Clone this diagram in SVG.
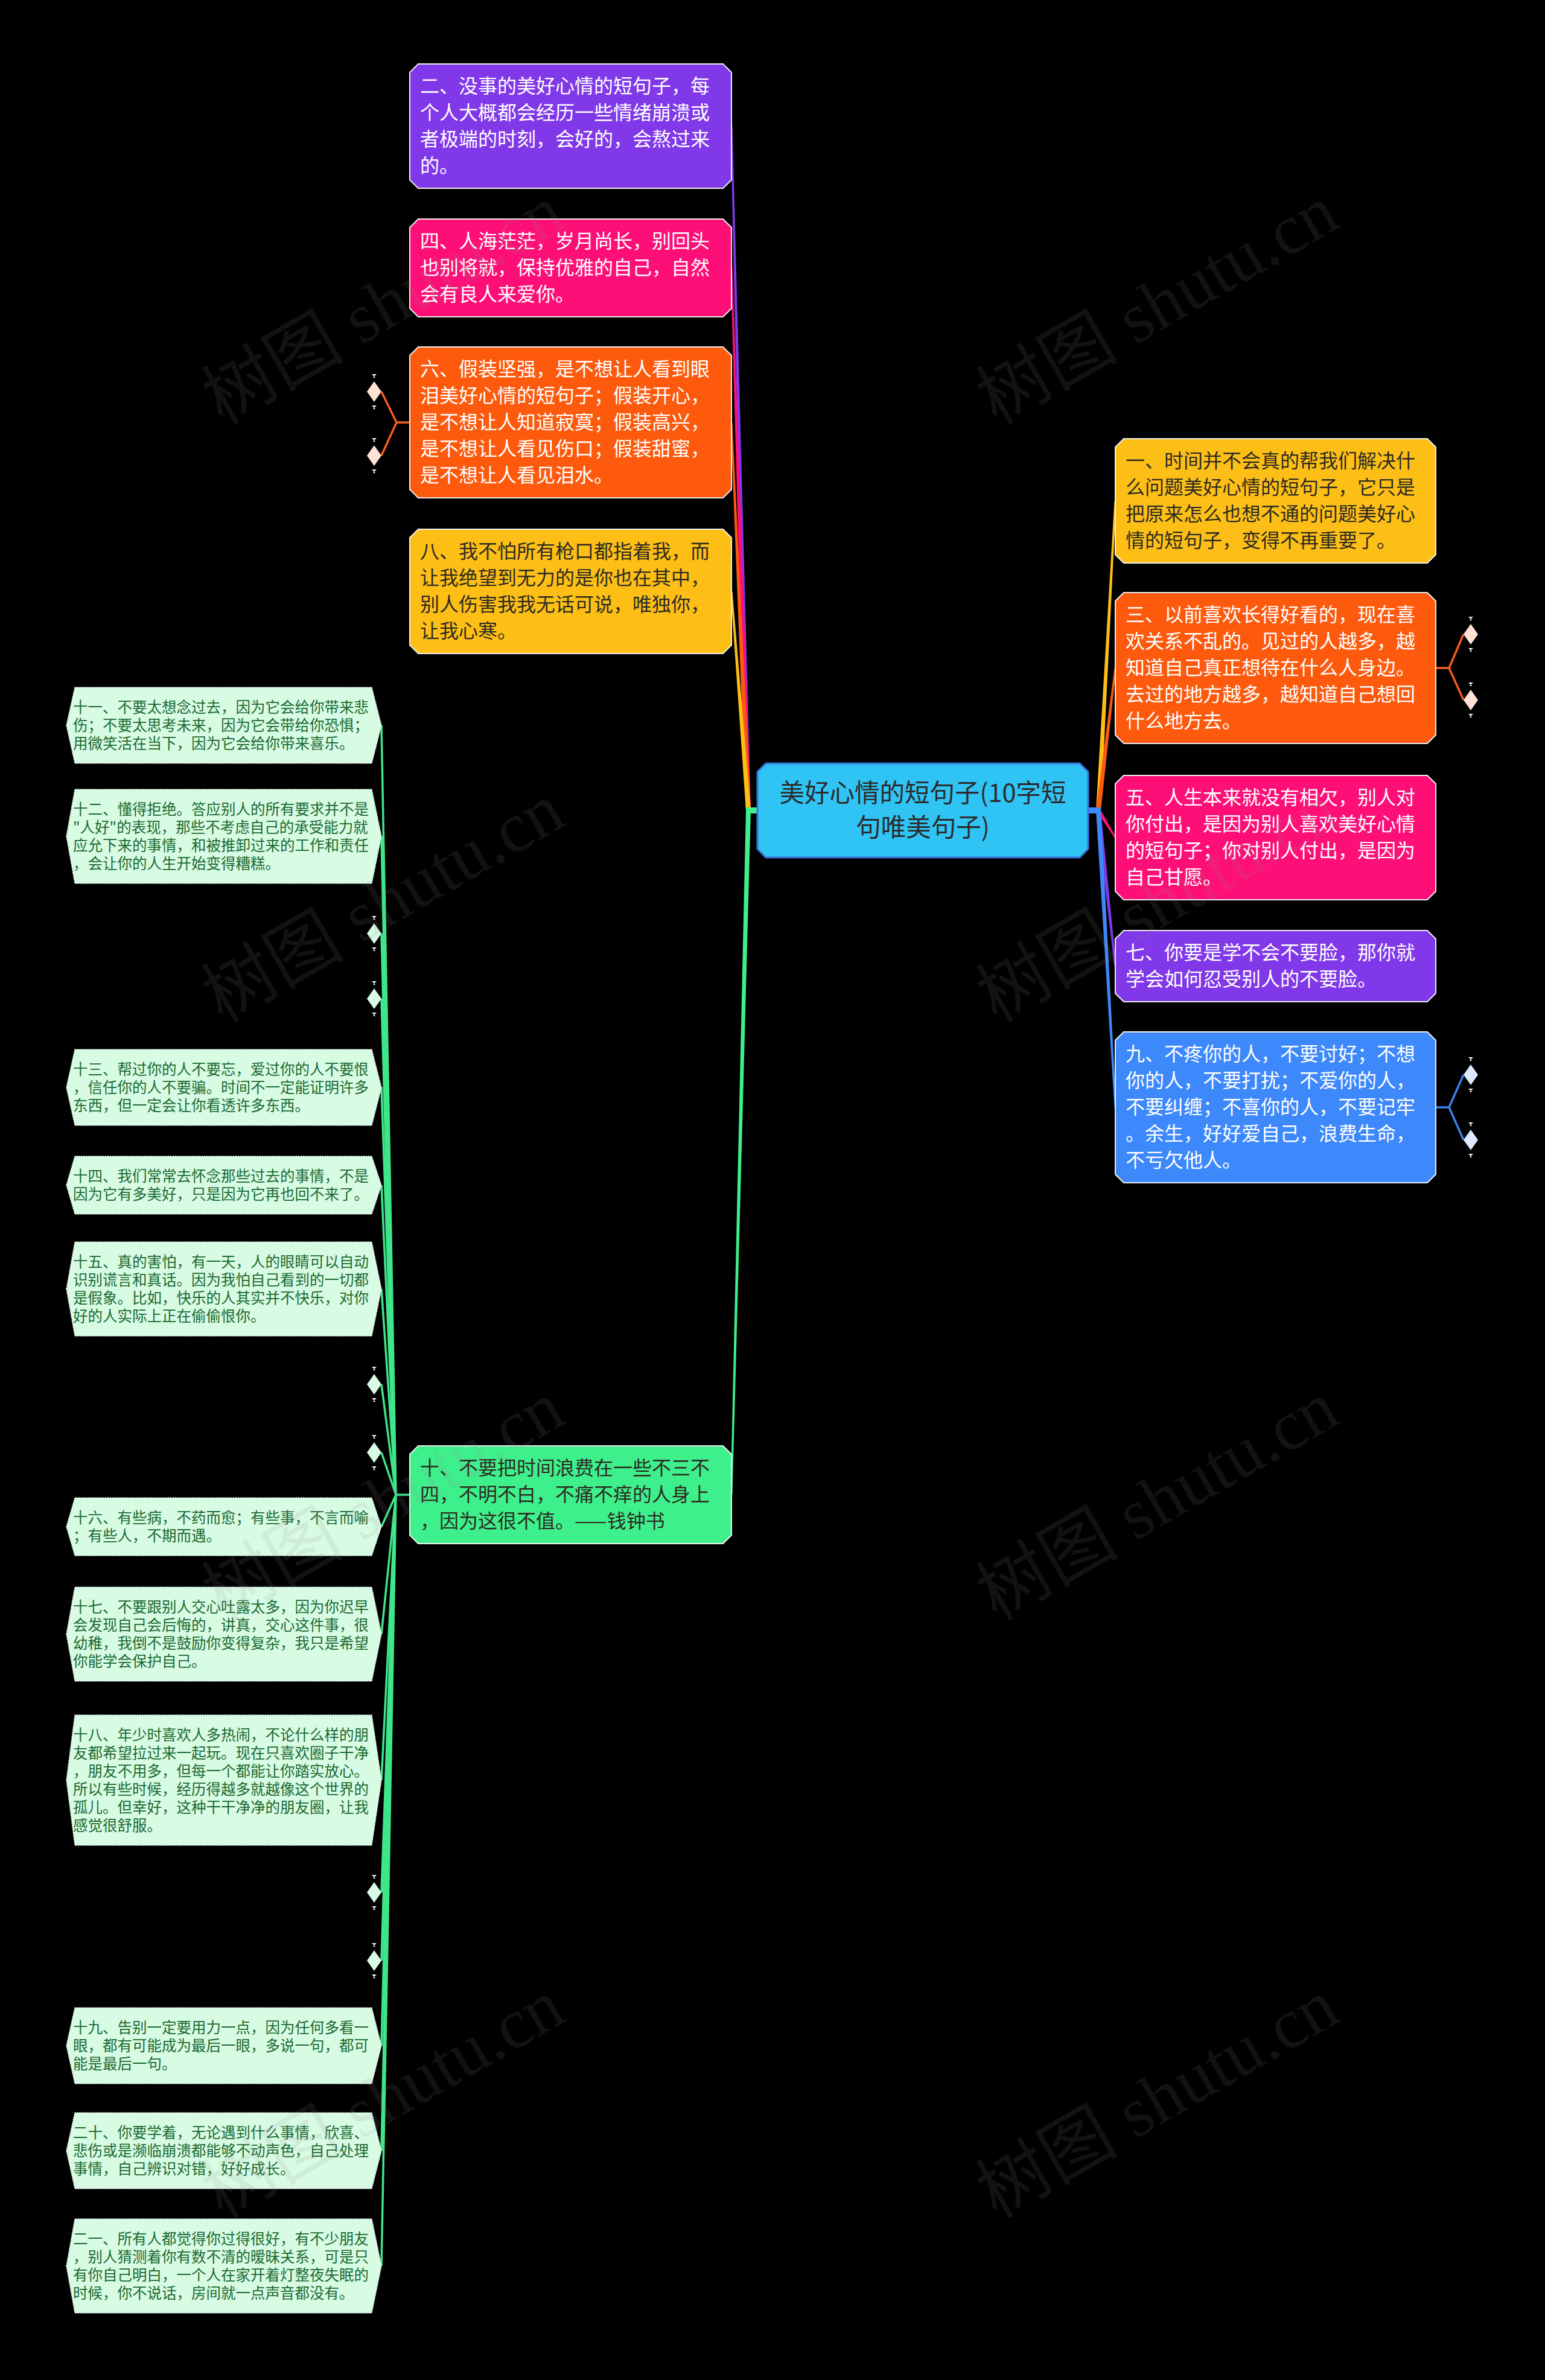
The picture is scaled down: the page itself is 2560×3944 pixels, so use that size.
<svg xmlns="http://www.w3.org/2000/svg" width="2560" height="3944" viewBox="0 0 2560 3944">
<defs>
<style>
.main{font-family:"Noto Sans CJK SC","Noto Sans",sans-serif;font-size:32px}
.small{font-family:"Noto Sans CJK SC","Noto Sans",sans-serif;font-size:24.5px;fill:#1b6a32}
.ctr{font-family:"Noto Sans CJK SC","Noto Sans",sans-serif;font-size:41.5px;fill:#2b2b2b;text-anchor:middle}
.w{fill:#ffffff}
.d{fill:#2d2a22}
.box{stroke:#eeeeee;stroke-width:2}
.hex{fill:#d8fbe4;stroke:#f4fff8;stroke-width:1.5;stroke-dasharray:2 2}
.gl{fill:none;stroke:#3ee68a;stroke-width:3.5;stroke-linejoin:round}
.ol{fill:none;stroke:#f65d1c;stroke-width:3.5;stroke-linejoin:round}
.bl{fill:none;stroke:#3d82f0;stroke-width:3.5;stroke-linejoin:round}
.wm{font-family:"Liberation Serif","Noto Sans CJK SC",serif;font-size:118px;fill:#8a8a8a;fill-opacity:0.13}
</style>
<symbol id="spk" viewBox="-5 -5 10 10" overflow="visible">
<path d="M-4,-3 L4,-3 L0,1 Z M-2,3 L2,3 L0,0 Z" fill="#f4f4f4"/>
</symbol>
</defs>
<rect x="0" y="0" width="2560" height="3944" fill="#000000"/>

<g id="connectors">
<polygon points="1236,1343 1244,1343 1213.5,209 1210.5,209" fill="#8038e8"/>
<polygon points="1236,1343 1244,1343 1213.5,444 1210.5,444" fill="#fe0f77"/>
<polygon points="1236,1343 1244,1343 1213.5,700 1210.5,700" fill="#fd5a0e"/>
<polygon points="1236,1343 1244,1343 1213.5,980 1210.5,980" fill="#fdbf16"/>
<polygon points="1236,1343 1244,1343 1213.5,2477 1210.5,2477" fill="#3ef08c"/>
<rect x="1236" y="1338" width="22" height="10" fill="#3ef08c"/>
<polygon points="1816,1343 1824,1343 1849.5,830 1846.5,830" fill="#fdbf16"/>
<polygon points="1816,1343 1824,1343 1849.5,1107 1846.5,1107" fill="#fd5a0e"/>
<polygon points="1816,1343 1824,1343 1849.5,1388 1846.5,1388" fill="#fe0f77"/>
<polygon points="1816,1343 1824,1343 1849.5,1601 1846.5,1601" fill="#8038e8"/>
<polygon points="1816,1343 1824,1343 1849.5,1835 1846.5,1835" fill="#3d88fb"/>
<rect x="1800" y="1338" width="24" height="10" fill="#3d88fb"/>
<path class="ol" d="M679,700 L657,700 L632,649 M657,700 L632,755"/>
<path class="ol" d="M2379,1107 L2401,1107 L2425,1051 M2401,1107 L2425,1160"/>
<path class="bl" d="M2379,1835 L2401,1835 L2425,1781 M2401,1835 L2425,1889"/>
<path class="gl" d="M679,2477 L656,2477 L632,1202 M656,2477 L632,1386 M656,2477 L632,1547 M656,2477 L632,1655 M656,2477 L632,1802 M656,2477 L632,1964 M656,2477 L632,2136 M656,2477 L632,2294 M656,2477 L632,2407 M656,2477 L632,2530 M656,2477 L632,2708 M656,2477 L632,2950 M656,2477 L632,3136 M656,2477 L632,3249 M656,2477 L632,3390 M656,2477 L632,3564 M656,2477 L632,3755"/>
</g>

<g id="node-center">
<polygon points="1269,1265 1789,1265 1803,1279 1803,1407 1789,1421 1269,1421 1255,1407 1255,1279" fill="#30c4f5" stroke="#3873d8" stroke-width="3"/>
<text class="ctr" x="1529" y="1329">美好心情的短句子(10字短</text>
<text class="ctr" x="1529" y="1386">句唯美句子)</text>
</g>

<g id="node-2">
<polygon class="box" points="693,106 1198,106 1212,120 1212,298 1198,312 693,312 679,298 679,120" fill="#8038e8"/>
<text class="main w" x="696" y="154">二、没事的美好心情的短句子，每</text>
<text class="main w" x="696" y="198">个人大概都会经历一些情绪崩溃或</text>
<text class="main w" x="696" y="242">者极端的时刻，会好的，会熬过来</text>
<text class="main w" x="696" y="286">的。</text>
</g>
<g id="node-4">
<polygon class="box" points="693,363 1198,363 1212,377 1212,511 1198,525 693,525 679,511 679,377" fill="#fe0f77"/>
<text class="main w" x="696" y="411">四、人海茫茫，岁月尚长，别回头</text>
<text class="main w" x="696" y="455">也别将就，保持优雅的自己，自然</text>
<text class="main w" x="696" y="499">会有良人来爱你。</text>
</g>
<g id="node-6">
<polygon class="box" points="693,575 1198,575 1212,589 1212,811 1198,825 693,825 679,811 679,589" fill="#fd5a0e"/>
<text class="main w" x="696" y="623">六、假装坚强，是不想让人看到眼</text>
<text class="main w" x="696" y="667">泪美好心情的短句子；假装开心，</text>
<text class="main w" x="696" y="711">是不想让人知道寂寞；假装高兴，</text>
<text class="main w" x="696" y="755">是不想让人看见伤口；假装甜蜜，</text>
<text class="main w" x="696" y="799">是不想让人看见泪水。</text>
</g>
<g id="node-8">
<polygon class="box" points="693,877 1198,877 1212,891 1212,1069 1198,1083 693,1083 679,1069 679,891" fill="#fdbf16"/>
<text class="main d" x="696" y="925">八、我不怕所有枪口都指着我，而</text>
<text class="main d" x="696" y="969">让我绝望到无力的是你也在其中，</text>
<text class="main d" x="696" y="1013">别人伤害我我无话可说，唯独你，</text>
<text class="main d" x="696" y="1057">让我心寒。</text>
</g>
<g id="node-10">
<polygon class="box" points="693,2396 1198,2396 1212,2410 1212,2544 1198,2558 693,2558 679,2544 679,2410" fill="#3ef08c"/>
<text class="main d" x="696" y="2444">十、不要把时间浪费在一些不三不</text>
<text class="main d" x="696" y="2488">四，不明不白，不痛不痒的人身上</text>
<text class="main d" x="696" y="2532">，因为这很不值。——钱钟书</text>
</g>

<g id="node-1">
<polygon class="box" points="1862,727 2365,727 2379,741 2379,919 2365,933 1862,933 1848,919 1848,741" fill="#fdbf16"/>
<text class="main d" x="1865" y="775">一、时间并不会真的帮我们解决什</text>
<text class="main d" x="1865" y="819">么问题美好心情的短句子，它只是</text>
<text class="main d" x="1865" y="863">把原来怎么也想不通的问题美好心</text>
<text class="main d" x="1865" y="907">情的短句子，变得不再重要了。</text>
</g>
<g id="node-3">
<polygon class="box" points="1862,982 2365,982 2379,996 2379,1218 2365,1232 1862,1232 1848,1218 1848,996" fill="#fd5a0e"/>
<text class="main w" x="1865" y="1030">三、以前喜欢长得好看的，现在喜</text>
<text class="main w" x="1865" y="1074">欢关系不乱的。见过的人越多，越</text>
<text class="main w" x="1865" y="1118">知道自己真正想待在什么人身边。</text>
<text class="main w" x="1865" y="1162">去过的地方越多，越知道自己想回</text>
<text class="main w" x="1865" y="1206">什么地方去。</text>
</g>
<g id="node-5">
<polygon class="box" points="1862,1285 2365,1285 2379,1299 2379,1477 2365,1491 1862,1491 1848,1477 1848,1299" fill="#fe0f77"/>
<text class="main w" x="1865" y="1333">五、人生本来就没有相欠，别人对</text>
<text class="main w" x="1865" y="1377">你付出，是因为别人喜欢美好心情</text>
<text class="main w" x="1865" y="1421">的短句子；你对别人付出，是因为</text>
<text class="main w" x="1865" y="1465">自己甘愿。</text>
</g>
<g id="node-7">
<polygon class="box" points="1862,1542 2365,1542 2379,1556 2379,1646 2365,1660 1862,1660 1848,1646 1848,1556" fill="#8038e8"/>
<text class="main w" x="1865" y="1590">七、你要是学不会不要脸，那你就</text>
<text class="main w" x="1865" y="1634">学会如何忍受别人的不要脸。</text>
</g>
<g id="node-9">
<polygon class="box" points="1862,1710 2365,1710 2379,1724 2379,1946 2365,1960 1862,1960 1848,1946 1848,1724" fill="#3d88fb"/>
<text class="main w" x="1865" y="1758">九、不疼你的人，不要讨好；不想</text>
<text class="main w" x="1865" y="1802">你的人，不要打扰；不爱你的人，</text>
<text class="main w" x="1865" y="1846">不要纠缠；不喜你的人，不要记牢</text>
<text class="main w" x="1865" y="1890">。余生，好好爱自己，浪费生命，</text>
<text class="main w" x="1865" y="1934">不亏欠他人。</text>
</g>

<g id="node-11">
<polygon class="hex" points="110,1202 124,1139 616,1139 632,1202 616,1265 124,1265"/>
<text class="small" x="121" y="1181">十一、不要太想念过去，因为它会给你带来悲</text>
<text class="small" x="121" y="1211">伤；不要太思考未来，因为它会带给你恐惧；</text>
<text class="small" x="121" y="1241">用微笑活在当下，因为它会给你带来喜乐。</text>
</g>
<g id="node-12">
<polygon class="hex" points="110,1386 124,1308 616,1308 632,1386 616,1464 124,1464"/>
<text class="small" x="121" y="1350">十二、懂得拒绝。答应别人的所有要求并不是</text>
<text class="small" x="121" y="1380">"人好"的表现，那些不考虑自己的承受能力就</text>
<text class="small" x="121" y="1410">应允下来的事情，和被推卸过来的工作和责任</text>
<text class="small" x="121" y="1440">，会让你的人生开始变得糟糕。</text>
</g>
<g id="node-13">
<polygon class="hex" points="110,1802 124,1739 616,1739 632,1802 616,1865 124,1865"/>
<text class="small" x="121" y="1781">十三、帮过你的人不要忘，爱过你的人不要恨</text>
<text class="small" x="121" y="1811">，信任你的人不要骗。时间不一定能证明许多</text>
<text class="small" x="121" y="1841">东西，但一定会让你看透许多东西。</text>
</g>
<g id="node-14">
<polygon class="hex" points="110,1964 124,1916 616,1916 632,1964 616,2012 124,2012"/>
<text class="small" x="121" y="1958">十四、我们常常去怀念那些过去的事情，不是</text>
<text class="small" x="121" y="1988">因为它有多美好，只是因为它再也回不来了。</text>
</g>
<g id="node-15">
<polygon class="hex" points="110,2136 124,2058 616,2058 632,2136 616,2214 124,2214"/>
<text class="small" x="121" y="2100">十五、真的害怕，有一天，人的眼睛可以自动</text>
<text class="small" x="121" y="2130">识别谎言和真话。因为我怕自己看到的一切都</text>
<text class="small" x="121" y="2160">是假象。比如，快乐的人其实并不快乐，对你</text>
<text class="small" x="121" y="2190">好的人实际上正在偷偷恨你。</text>
</g>
<g id="node-16">
<polygon class="hex" points="110,2530 124,2482 616,2482 632,2530 616,2578 124,2578"/>
<text class="small" x="121" y="2524">十六、有些病，不药而愈；有些事，不言而喻</text>
<text class="small" x="121" y="2554">；有些人，不期而遇。</text>
</g>
<g id="node-17">
<polygon class="hex" points="110,2708 124,2630 616,2630 632,2708 616,2786 124,2786"/>
<text class="small" x="121" y="2672">十七、不要跟别人交心吐露太多，因为你迟早</text>
<text class="small" x="121" y="2702">会发现自己会后悔的，讲真，交心这件事，很</text>
<text class="small" x="121" y="2732">幼稚，我倒不是鼓励你变得复杂，我只是希望</text>
<text class="small" x="121" y="2762">你能学会保护自己。</text>
</g>
<g id="node-18">
<polygon class="hex" points="110,2950 124,2842 616,2842 632,2950 616,3058 124,3058"/>
<text class="small" x="121" y="2884">十八、年少时喜欢人多热闹，不论什么样的朋</text>
<text class="small" x="121" y="2914">友都希望拉过来一起玩。现在只喜欢圈子干净</text>
<text class="small" x="121" y="2944">，朋友不用多，但每一个都能让你踏实放心。</text>
<text class="small" x="121" y="2974">所以有些时候，经历得越多就越像这个世界的</text>
<text class="small" x="121" y="3004">孤儿。但幸好，这种干干净净的朋友圈，让我</text>
<text class="small" x="121" y="3034">感觉很舒服。</text>
</g>
<g id="node-19">
<polygon class="hex" points="110,3390 124,3327 616,3327 632,3390 616,3453 124,3453"/>
<text class="small" x="121" y="3369">十九、告别一定要用力一点，因为任何多看一</text>
<text class="small" x="121" y="3399">眼，都有可能成为最后一眼，多说一句，都可</text>
<text class="small" x="121" y="3429">能是最后一句。</text>
</g>
<g id="node-20">
<polygon class="hex" points="110,3564 124,3501 616,3501 632,3564 616,3627 124,3627"/>
<text class="small" x="121" y="3543">二十、你要学着，无论遇到什么事情，欣喜、</text>
<text class="small" x="121" y="3573">悲伤或是濒临崩溃都能够不动声色，自己处理</text>
<text class="small" x="121" y="3603">事情，自己辨识对错，好好成长。</text>
</g>
<g id="node-21">
<polygon class="hex" points="110,3755 124,3677 616,3677 632,3755 616,3833 124,3833"/>
<text class="small" x="121" y="3719">二一、所有人都觉得你过得很好，有不少朋友</text>
<text class="small" x="121" y="3749">，别人猜测着你有数不清的暧昧关系，可是只</text>
<text class="small" x="121" y="3779">有你自己明白，一个人在家开着灯整夜失眠的</text>
<text class="small" x="121" y="3809">时候，你不说话，房间就一点声音都没有。</text>
</g>

<g id="diamonds">
<g id="d6a"><polygon points="620,632 632,649 620,666 608,649" fill="#ffe2d4"/><use href="#spk" x="615" y="618" width="10" height="10"/><use href="#spk" x="615" y="670" width="10" height="10"/></g>
<g id="d6b"><polygon points="620,738 632,755 620,772 608,755" fill="#ffe2d4"/><use href="#spk" x="615" y="724" width="10" height="10"/><use href="#spk" x="615" y="776" width="10" height="10"/></g>
<g id="d3a"><polygon points="2437,1034 2449,1051 2437,1068 2425,1051" fill="#ffe2d4"/><use href="#spk" x="2432" y="1020" width="10" height="10"/><use href="#spk" x="2432" y="1072" width="10" height="10"/></g>
<g id="d3b"><polygon points="2437,1143 2449,1160 2437,1177 2425,1160" fill="#ffe2d4"/><use href="#spk" x="2432" y="1129" width="10" height="10"/><use href="#spk" x="2432" y="1181" width="10" height="10"/></g>
<g id="d9a"><polygon points="2437,1764 2449,1781 2437,1798 2425,1781" fill="#dce9ff"/><use href="#spk" x="2432" y="1750" width="10" height="10"/><use href="#spk" x="2432" y="1802" width="10" height="10"/></g>
<g id="d9b"><polygon points="2437,1872 2449,1889 2437,1906 2425,1889" fill="#dce9ff"/><use href="#spk" x="2432" y="1858" width="10" height="10"/><use href="#spk" x="2432" y="1910" width="10" height="10"/></g>
<g id="d10a"><polygon points="620,1530 632,1547 620,1564 608,1547" fill="#d8fbe4"/><use href="#spk" x="615" y="1516" width="10" height="10"/><use href="#spk" x="615" y="1568" width="10" height="10"/></g>
<g id="d10b"><polygon points="620,1638 632,1655 620,1672 608,1655" fill="#d8fbe4"/><use href="#spk" x="615" y="1624" width="10" height="10"/><use href="#spk" x="615" y="1676" width="10" height="10"/></g>
<g id="d10c"><polygon points="620,2277 632,2294 620,2311 608,2294" fill="#d8fbe4"/><use href="#spk" x="615" y="2263" width="10" height="10"/><use href="#spk" x="615" y="2315" width="10" height="10"/></g>
<g id="d10d"><polygon points="620,2390 632,2407 620,2424 608,2407" fill="#d8fbe4"/><use href="#spk" x="615" y="2376" width="10" height="10"/><use href="#spk" x="615" y="2428" width="10" height="10"/></g>
<g id="d10e"><polygon points="620,3119 632,3136 620,3153 608,3136" fill="#d8fbe4"/><use href="#spk" x="615" y="3105" width="10" height="10"/><use href="#spk" x="615" y="3157" width="10" height="10"/></g>
<g id="d10f"><polygon points="620,3232 632,3249 620,3266 608,3249" fill="#d8fbe4"/><use href="#spk" x="615" y="3218" width="10" height="10"/><use href="#spk" x="615" y="3270" width="10" height="10"/></g>
</g>

<g id="watermarks">
<text class="wm" transform="translate(368,705) rotate(-30)">树图 shutu.cn</text>
<text class="wm" transform="translate(1651,705) rotate(-30)">树图 shutu.cn</text>
<text class="wm" transform="translate(368,1696) rotate(-30)">树图 shutu.cn</text>
<text class="wm" transform="translate(1651,1696) rotate(-30)">树图 shutu.cn</text>
<text class="wm" transform="translate(368,2687) rotate(-30)">树图 shutu.cn</text>
<text class="wm" transform="translate(1651,2687) rotate(-30)">树图 shutu.cn</text>
<text class="wm" transform="translate(368,3678) rotate(-30)">树图 shutu.cn</text>
<text class="wm" transform="translate(1651,3678) rotate(-30)">树图 shutu.cn</text>
</g>
</svg>
